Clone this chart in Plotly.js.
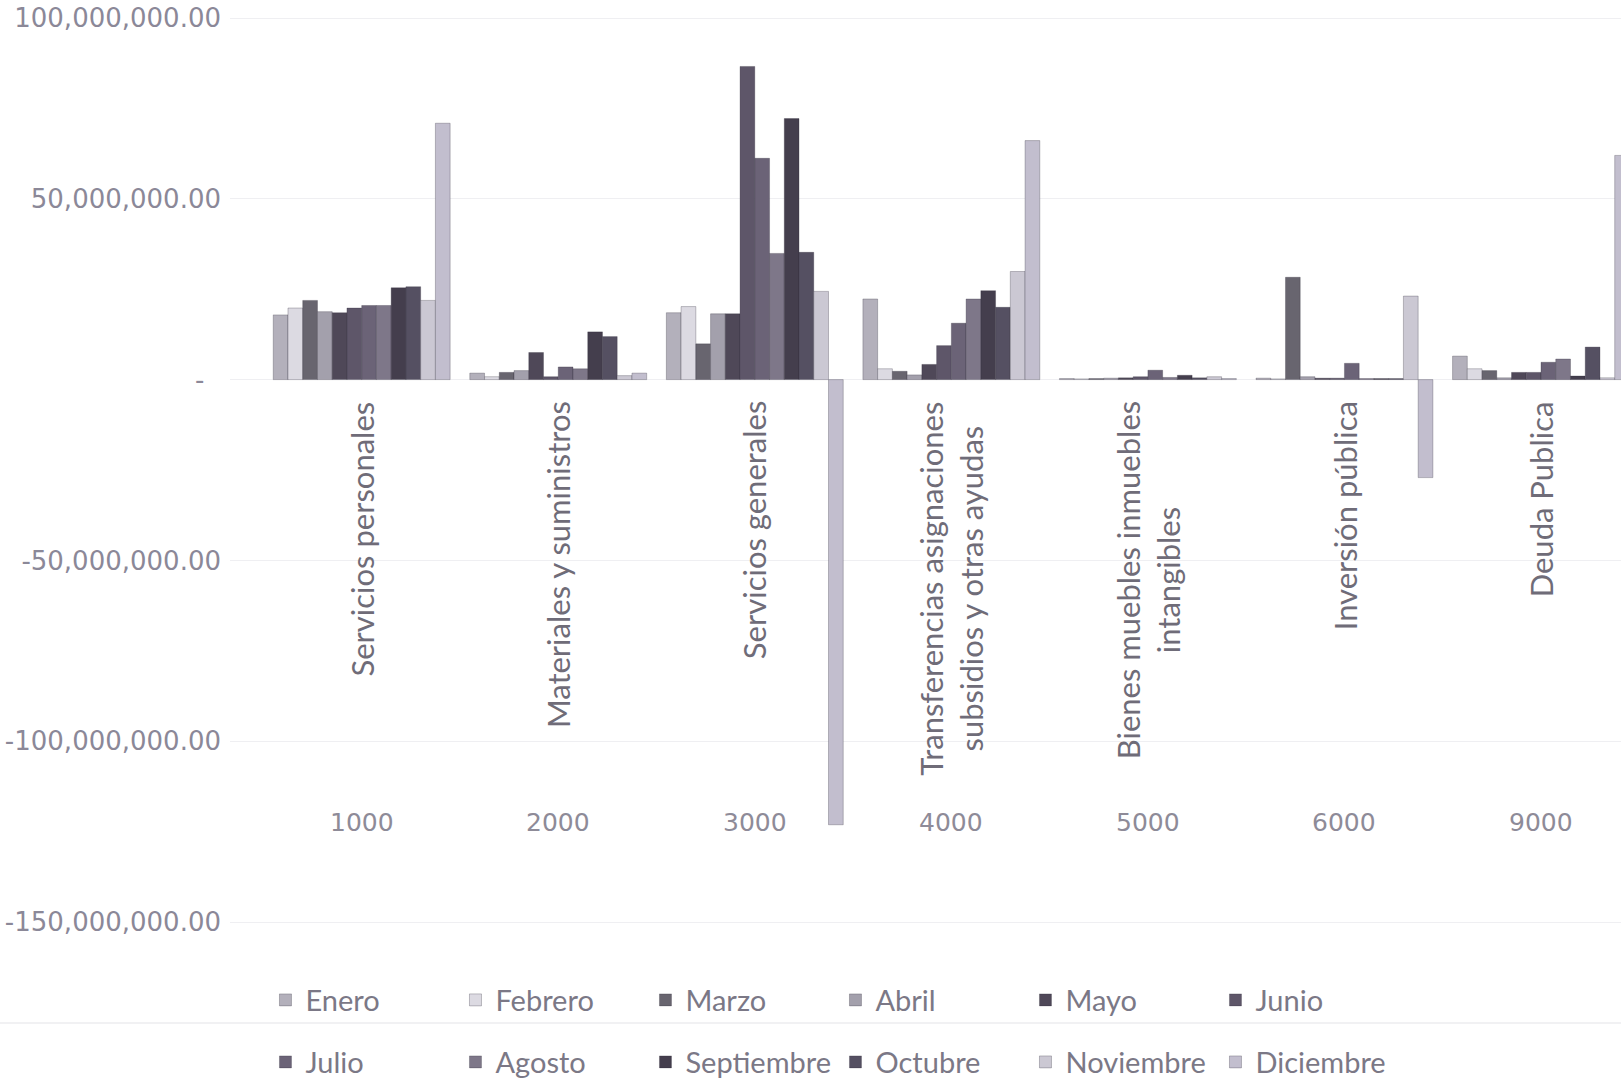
<!DOCTYPE html>
<html>
<head>
<meta charset="utf-8">
<script src="https://cdn.plot.ly/plotly-3.0.1.min.js"></script>
<style>
html,body{margin:0;padding:0;background:#fff;}
#chart{width:1621px;height:1078px;}
</style>
</head>
<body>
<div id="chart"></div>
<script>
// ---- data ----
const categoryCodes = ['1000','2000','3000','4000','5000','6000','9000'];
const categoryNames = [
  'Servicios personales',
  'Materiales y suministros',
  'Servicios generales',
  'Transferencias asignaciones<br>subsidios y otras ayudas',
  'Bienes muebles inmuebles<br>intangibles',
  'Inversión pública',
  'Deuda Publica'
];
const months = ['Enero','Febrero','Marzo','Abril','Mayo','Junio','Julio','Agosto','Septiembre','Octubre','Noviembre','Diciembre'];

const enero      = [17900000, 1800000,  18500000, 22300000,  300000,   400000,  6500000];
const febrero    = [19800000,  800000,  20200000,  3000000,  200000,   200000,  3000000];
const marzo      = [21900000, 2000000,   9900000,  2300000,  300000, 28300000,  2500000];
const abril      = [18800000, 2500000,  18200000,  1300000,  400000,   800000,   500000];
const mayo       = [18500000, 7500000,  18200000,  4200000,  500000,   400000,  2000000];
const junio      = [19800000,  800000,  86600000,  9400000,  800000,   400000,  2000000];
const julio      = [20500000, 3500000,  61200000, 15600000, 2600000,  4500000,  4800000];
const agosto     = [20500000, 3000000,  34900000, 22300000,  600000,   300000,  5700000];
const septiembre = [25400000,13200000,  72200000, 24600000, 1200000,   300000,  1000000];
const octubre    = [25700000,11900000,  35200000, 20000000,  500000,   300000,  9000000];
const noviembre  = [21900000, 1100000,  24400000, 29900000,  800000, 23100000,   500000];
const diciembre  = [70900000, 1800000,-123100000, 66100000,  300000,-27100000, 62000000];

const seriesValues = [enero,febrero,marzo,abril,mayo,junio,julio,agosto,septiembre,octubre,noviembre,diciembre];

const yTickVals  = [-150000000,-100000000,-50000000,0,50000000,100000000];
const yTickText  = ['-150,000,000.00','-100,000,000.00','-50,000,000.00','-\u00a0\u00a0','50,000,000.00','100,000,000.00'];

// ---- styles ----
const colors = ['#b3b0bb','#dcdae2','#68656f','#a3a0ac','#4f4858','#5e5669',
                '#6b6377','#7e7789','#443e4d','#555062','#cbc8d3','#c2bece'];

const traces = months.map((m,i)=>({
  type:'bar',
  name:m,
  x:categoryCodes,
  y:seriesValues[i],
  marker:{color:colors[i], line:{color:'rgba(40,35,50,0.35)', width:0.8}},
  legend: i<6 ? 'legend' : 'legend2',
  hoverinfo:'name+y'
}));

const annotations = [];
categoryNames.forEach((n,i)=>{
  annotations.push({
    xref:'x', yref:'paper', x:i, y:0.584,
    text:n, showarrow:false, textangle:-90,
    xanchor:'center', yanchor:'top', align:'center',
    font:{family:'Lato, sans-serif', size:31, color:'#6f6c78'}
  });
});
categoryCodes.forEach((c,i)=>{
  annotations.push({
    xref:'x', yref:'paper', x:i, y:0.14375,
    text:c, showarrow:false,
    xanchor:'center', yanchor:'middle',
    font:{family:'DejaVu Sans, sans-serif', size:25, color:'#8e8b98'}
  });
});

const legendCommon = {
  orientation:'h', xanchor:'left', yanchor:'middle',
  font:{family:'Lato, sans-serif', size:29, color:'#7b7886'},
  entrywidth:145, entrywidthmode:'pixels',
  bgcolor:'rgba(0,0,0,0)', borderwidth:0, itemclick:false
};

const layout = {
  width:1621, height:1078,
  margin:{l:230, r:0, t:0, b:118, pad:0, autoexpand:false},
  paper_bgcolor:'#ffffff', plot_bgcolor:'#ffffff',
  barmode:'group', bargap:0.1, bargroupgap:0,
  showlegend:true,
  legend:Object.assign({x:0.0255, y:-0.0417}, legendCommon),
  legend2:Object.assign({x:0.0255, y:-0.1063}, legendCommon),
  xaxis:{
    type:'category', range:[-0.67, 6.407],
    showticklabels:false, showgrid:false, zeroline:false, showline:false, ticks:''
  },
  yaxis:{
    range:[-160500000, 104980000],
    tickvals:yTickVals, ticktext:yTickText,
    showgrid:true, gridcolor:'#efeff2', gridwidth:1,
    zeroline:false, showline:false, ticks:'',
    ticklabelstandoff:8,
    tickfont:{family:'DejaVu Sans, sans-serif', size:26, color:'#8b8898'}
  },
  shapes:[{
    type:'line', xref:'paper', yref:'paper',
    x0:-0.166, x1:1, y0:-0.0656, y1:-0.0656,
    line:{color:'#ececef', width:1.5}
  }],
  annotations:annotations
};

Plotly.newPlot('chart', traces, layout, {displayModeBar:false, staticPlot:true});
</script>
</body>
</html>
